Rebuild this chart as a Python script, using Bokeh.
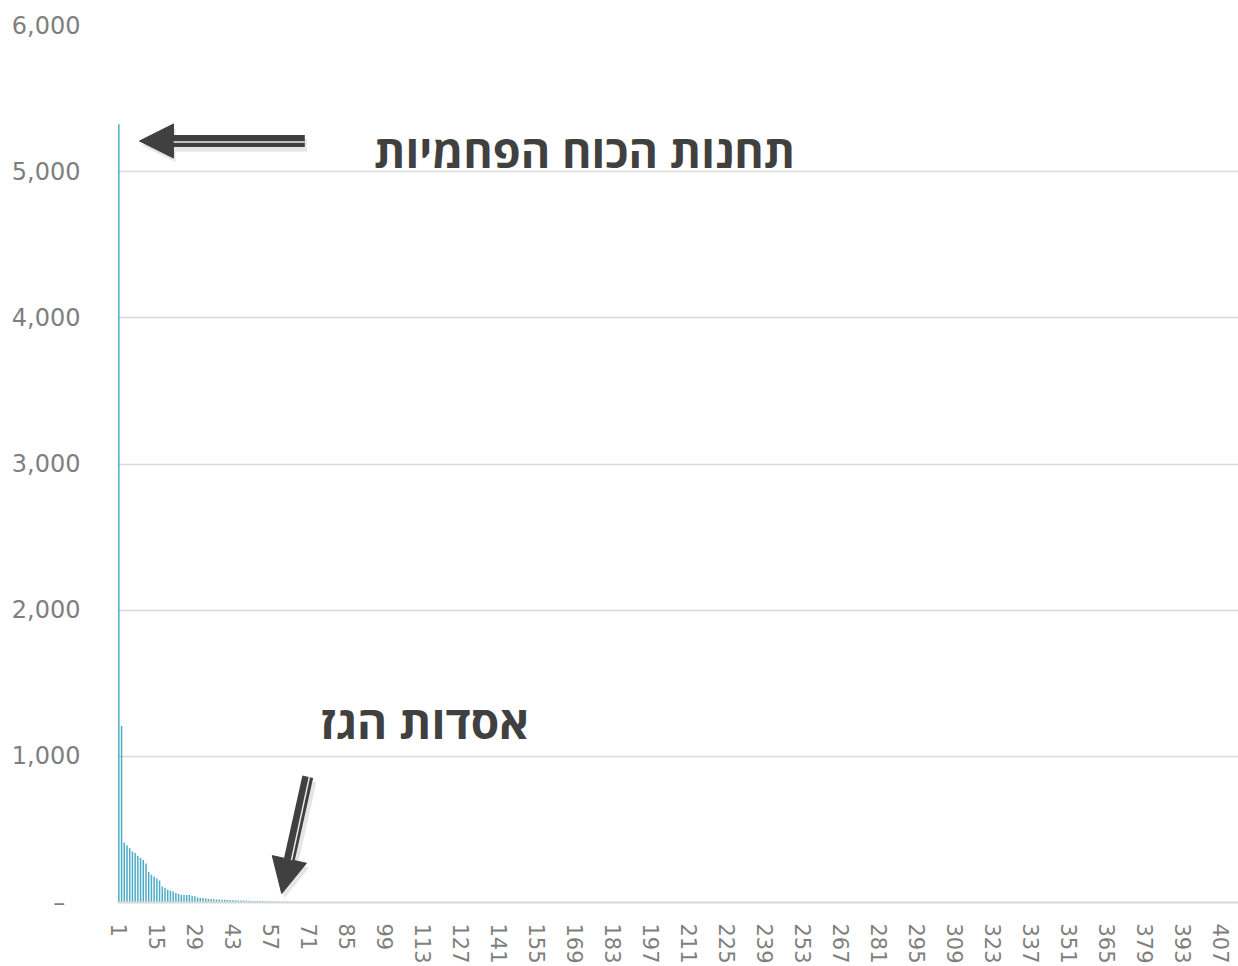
from bokeh.plotting import figure
from bokeh.models import Range1d, FixedTicker, Arrow, NormalHead, Label, ColumnDataSource, NumeralTickFormatter
from bokeh.embed import file_html
from bokeh.resources import INLINE

# ---- data ----
head_values = [
    5324, 1208, 411, 392, 372, 349, 338, 320, 304, 290,
    267, 210, 190, 176, 165, 151, 110, 101, 87, 80,
    76, 65, 58, 51, 51, 51, 51, 44, 42, 35,
    30, 30, 28, 24, 24, 22, 21, 20, 19, 18,
    17, 17, 16, 15, 14, 13, 13, 12, 12, 11,
    11, 10, 10, 9, 8, 8, 7, 7, 7, 6,
    6, 6, 5, 5, 5, 5, 4, 4, 4, 4,
    3, 3, 3, 3, 2,
]
tail_values = [
    1.8, 1.6, 1.5, 1.4, 1.3, 1.2, 1.1, 1.0, 0.9, 0.9, 0.8, 0.8, 0.7, 0.7, 0.6, 0.6, 0.5, 0.5, 0.5, 0.5, 0.5, 0.5, 0.4, 0.4, 0.4, 0.4,
    0.4, 0.4, 0.4, 0.35, 0.35, 0.35, 0.35, 0.35, 0.3, 0.3, 0.3, 0.3, 0.3, 0.3, 0.3, 0.28, 0.28, 0.28, 0.26, 0.26, 0.26, 0.25, 0.25, 0.25, 0.24, 0.24,
    0.23, 0.23, 0.22, 0.22, 0.22, 0.21, 0.21, 0.2, 0.2, 0.2, 0.19, 0.19, 0.19, 0.18, 0.18, 0.18, 0.17, 0.17, 0.17, 0.16, 0.16, 0.16, 0.16, 0.15, 0.15, 0.15,
    0.15, 0.14, 0.14, 0.14, 0.14, 0.13, 0.13, 0.13, 0.13, 0.12, 0.12, 0.12, 0.12, 0.12, 0.11, 0.11, 0.11, 0.11, 0.11, 0.1, 0.1, 0.1, 0.1, 0.1, 0.1, 0.1,
    0.09, 0.09, 0.09, 0.09, 0.09, 0.09, 0.09, 0.09, 0.08, 0.08, 0.08, 0.08, 0.08, 0.08, 0.08, 0.08, 0.08, 0.07, 0.07, 0.07, 0.07, 0.07, 0.07, 0.07, 0.07, 0.07,
    0.07, 0.06, 0.06, 0.06, 0.06, 0.06, 0.06, 0.06, 0.06, 0.06, 0.06, 0.06, 0.06, 0.05, 0.05, 0.05, 0.05, 0.05, 0.05, 0.05, 0.05, 0.05, 0.05, 0.05, 0.05, 0.05,
    0.05, 0.05, 0.04, 0.04, 0.04, 0.04, 0.04, 0.04, 0.04, 0.04, 0.04, 0.04, 0.04, 0.04, 0.04, 0.04, 0.04, 0.04, 0.04, 0.04, 0.04, 0.04, 0.03, 0.03, 0.03, 0.03,
    0.03, 0.03, 0.03, 0.03, 0.03, 0.03, 0.03, 0.03, 0.03, 0.03, 0.03, 0.03, 0.03, 0.03, 0.03, 0.03, 0.03, 0.03, 0.03, 0.03, 0.03, 0.03, 0.03, 0.03, 0.03, 0.03,
    0.02, 0.02, 0.02, 0.02, 0.02, 0.02, 0.02, 0.02, 0.02, 0.02, 0.02, 0.02, 0.02, 0.02, 0.02, 0.02, 0.02, 0.02, 0.02, 0.02, 0.02, 0.02, 0.02, 0.02, 0.02, 0.02,
    0.02, 0.02, 0.02, 0.02, 0.02, 0.02, 0.02, 0.02, 0.02, 0.02, 0.02, 0.02, 0.02, 0.02, 0.02, 0.02, 0.02, 0.02, 0.02, 0.02, 0.02, 0.02, 0.02, 0.02, 0.02, 0.02,
    0.01, 0.01, 0.01, 0.01, 0.01, 0.01, 0.01, 0.01, 0.01, 0.01, 0.01, 0.01, 0.01, 0.01, 0.01, 0.01, 0.01, 0.01, 0.01, 0.01, 0.01, 0.01, 0.01, 0.01, 0.01, 0.01,
    0.01, 0.01, 0.01, 0.01, 0.01, 0.01, 0.01, 0.01, 0.01, 0.01, 0.01, 0.01, 0.01, 0.01, 0.01, 0.01, 0.01, 0.01, 0.01, 0.01, 0.01, 0.01, 0.01, 0.01, 0.01, 0.01,
    0.01, 0.01, 0.01, 0.01, 0.01, 0.01, 0.01, 0.01, 0.01, 0.01, 0.01, 0.01, 0.01, 0.01, 0.01, 0.01, 0.01, 0.01, 0.01, 0.01, 0.01, 0.01, 0.01, 0.01, 0.01, 0.01,
]
values = head_values + tail_values
ranks = list(range(1, len(values) + 1))
x_tick_labels = [1, 15, 29, 43, 57, 71, 85, 99, 113, 127, 141, 155, 169, 183, 197, 211,
                 225, 239, 253, 267, 281, 295, 309, 323, 337, 351, 365, 379, 393, 407]
y_ticks = [0, 1000, 2000, 3000, 4000, 5000, 6000]

label_coal = "תחנות הכוח הפחמיות"
label_gas = "אסדות הגז"

# ---- figure ----
p = figure(width=1238, height=966, output_backend="svg", toolbar_location=None,
           x_range=Range1d(0.5, len(values) + 0.5), y_range=Range1d(0, 6000),
           min_border_left=117, min_border_right=0, min_border_top=25, min_border_bottom=62)
p.outline_line_color = None
p.background_fill_color = "white"
p.border_fill_color = "white"

src = ColumnDataSource(dict(rank=ranks, value=values))
p.vbar(x="rank", top="value", width=0.55, source=src, fill_color="#4BACC6", line_color=None)

# axes
p.xaxis.ticker = FixedTicker(ticks=x_tick_labels)
p.xaxis.major_label_orientation = "vertical"
p.xaxis.major_tick_line_color = None
p.xaxis.minor_tick_line_color = None
p.xaxis.axis_line_color = "#d9d9d9"
p.xaxis.axis_line_width = 2
p.xaxis.major_label_text_font = "DejaVu Sans"
p.xaxis.major_label_text_font_size = "21px"
p.xaxis.major_label_text_color = "#7f7f7f"
p.xaxis.major_label_standoff = 15

p.yaxis.ticker = FixedTicker(ticks=y_ticks)
p.yaxis.formatter = NumeralTickFormatter(format="0,0")
p.yaxis.major_label_overrides = {0: "–\u00a0\u00a0"}
p.yaxis.major_tick_line_color = None
p.yaxis.minor_tick_line_color = None
p.yaxis.axis_line_color = None
p.yaxis.major_label_text_font = "DejaVu Sans"
p.yaxis.major_label_text_font_size = "24px"
p.yaxis.major_label_text_color = "#7f7f7f"
p.yaxis.major_label_standoff = 31

p.xgrid.grid_line_color = None
p.ygrid.grid_line_color = "#d9d9d9"
p.ygrid.grid_line_width = 1.5

DARK = "#404040"

# shadows
p.add_layout(Arrow(end=NormalHead(size=34, fill_color="black", fill_alpha=0.10, line_color=None),
                   x_start=70.3, y_start=5180, x_end=9.4, y_end=5180,
                   line_width=13, line_color="black", line_alpha=0.10))
p.add_layout(Arrow(end=NormalHead(size=35, fill_color="black", fill_alpha=0.10, line_color=None),
                   x_start=71.6, y_start=830, x_end=62.0, y_end=31,
                   line_width=12, line_color="black", line_alpha=0.10))

# arrows
p.add_layout(Arrow(end=NormalHead(size=34, fill_color=DARK, line_color=DARK),
                   x_start=69.5, y_start=5210, x_end=8.6, y_end=5210,
                   line_width=12, line_color=DARK))
p.add_layout(Arrow(end=None, x_start=69.5, y_start=5203, x_end=21.2, y_end=5203,
                   line_width=1.5, line_color="#e8e8e8"))

p.add_layout(Arrow(end=NormalHead(size=35, fill_color=DARK, line_color=DARK),
                   x_start=70.6, y_start=860, x_end=61.0, y_end=61,
                   line_width=11, line_color=DARK))
p.add_layout(Arrow(end=None, x_start=71.2, y_start=860, x_end=64.6, y_end=290,
                   line_width=1.5, line_color="#e8e8e8"))

# labels
p.add_layout(Label(x=172.6, y=5147, text=label_coal, text_font="Open Sans",
                   text_font_style="bold", text_font_size="45px", text_color=DARK,
                   text_align="center", text_baseline="middle"))
p.add_layout(Label(x=113.6, y=1242, text=label_gas, text_font="Open Sans",
                   text_font_style="bold", text_font_size="46px", text_color=DARK,
                   text_align="center", text_baseline="middle"))

open("out.html", "w").write(file_html(p, INLINE))
